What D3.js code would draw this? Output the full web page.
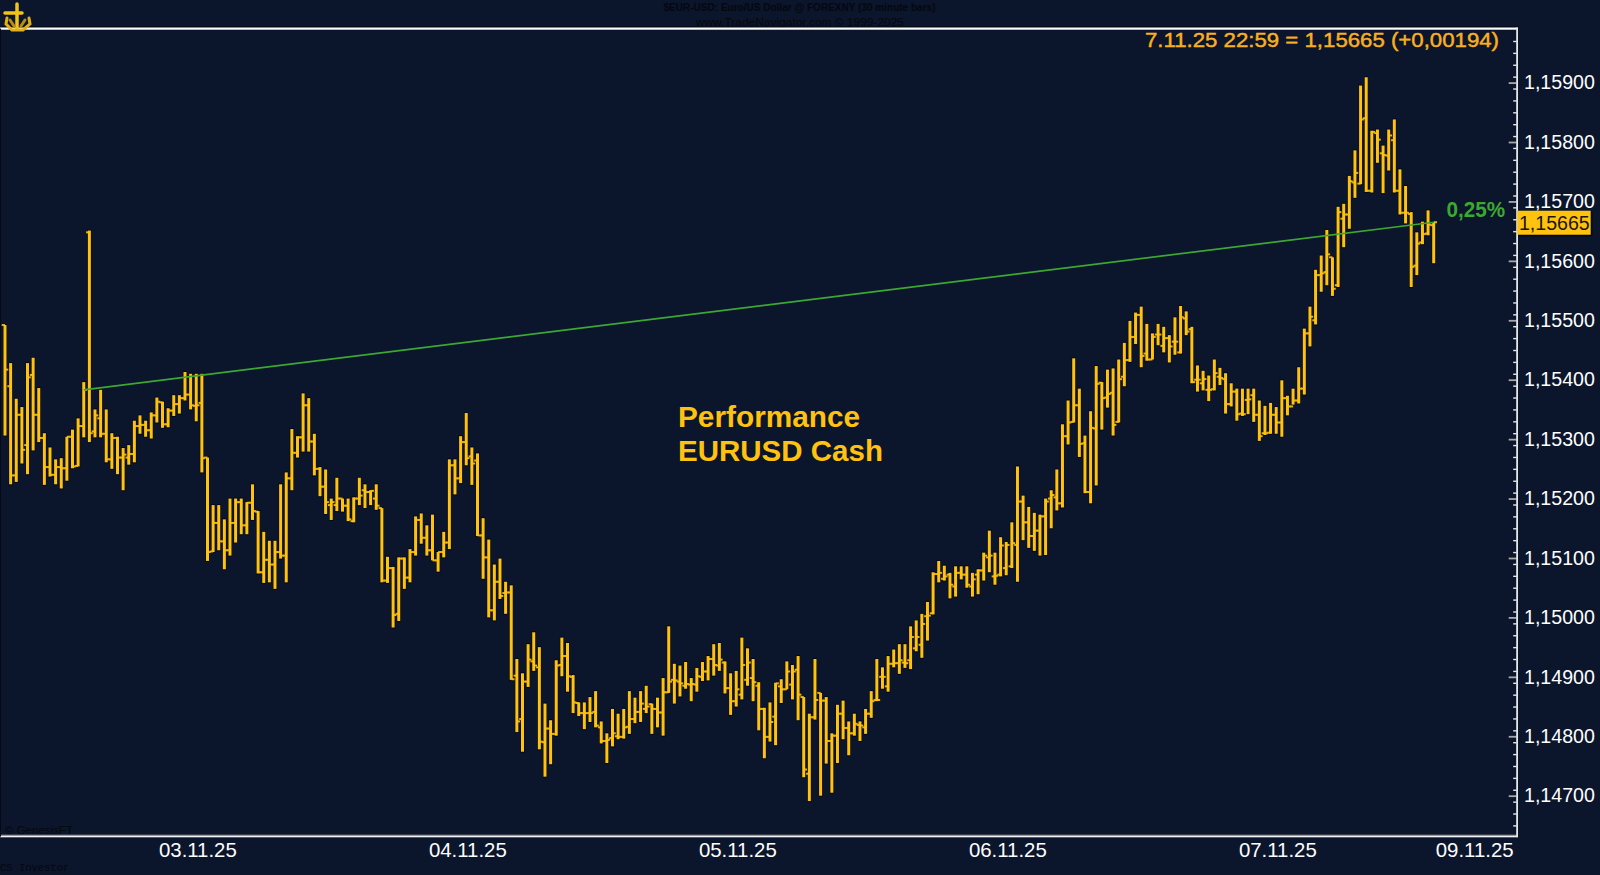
<!DOCTYPE html>
<html><head><meta charset="utf-8">
<script src="https://cdn.jsdelivr.net/npm/d3@7/dist/d3.min.js"></script>
<style>
html,body{margin:0;padding:0;background:#0b152b;overflow:hidden}
svg{display:block;font-family:"Liberation Sans",Arial,sans-serif}
</style></head><body><svg id="c" width="1600" height="875"></svg>
<script>
const highs=[1.15492,1.15428,1.15368,1.15354,1.15428,1.15437,1.15386,1.15310,1.15286,1.15266,
1.15268,1.15304,1.15316,1.15335,1.15396,1.15651,1.15350,1.15383,1.15350,1.15310,
1.15304,1.15285,1.15290,1.15331,1.15340,1.15331,1.15345,1.15370,1.15363,1.15352,
1.15374,1.15374,1.15413,1.15410,1.15410,1.15410,1.15269,1.15189,1.15189,1.15165,
1.15200,1.15200,1.15200,1.15194,1.15224,1.15179,1.15144,1.15129,1.15129,1.15224,
1.15244,1.15317,1.15305,1.15377,1.15369,1.15309,1.15253,1.15249,1.15200,1.15235,
1.15200,1.15200,1.15202,1.15235,1.15224,1.15214,1.15224,1.15184,1.15102,1.15085,
1.15101,1.15101,1.15115,1.15170,1.15175,1.15155,1.15173,1.15110,1.15144,1.15266,
1.15266,1.15305,1.15344,1.15286,1.15276,1.15167,1.15131,1.15089,1.15099,1.15060,
1.15054,1.14930,1.14906,1.14955,1.14975,1.14950,1.14855,1.14827,1.14928,1.14966,
1.14957,1.14903,1.14857,1.14857,1.14866,1.14876,1.14825,1.14805,1.14846,1.14838,
1.14846,1.14876,1.14865,1.14876,1.14885,1.14855,1.14865,1.14898,1.14985,1.14922,
1.14919,1.14925,1.14898,1.14915,1.14925,1.14935,1.14955,1.14957,1.14926,1.14906,
1.14910,1.14966,1.14948,1.14930,1.14891,1.14848,1.14857,1.14890,1.14896,1.14926,
1.14920,1.14935,1.14866,1.14838,1.14930,1.14873,1.14866,1.14805,1.14853,1.14860,
1.14825,1.14838,1.14825,1.14846,1.14876,1.14930,1.14916,1.14935,1.14946,1.14955,
1.14955,1.14985,1.14995,1.15006,1.15026,1.15076,1.15095,1.15087,1.15075,1.15086,
1.15086,1.15086,1.15075,1.15081,1.15109,1.15146,1.15109,1.15135,1.15127,1.15160,
1.15254,1.15205,1.15186,1.15176,1.15173,1.15200,1.15214,1.15249,1.15325,1.15365,
1.15436,1.15385,1.15306,1.15347,1.15423,1.15396,1.15417,1.15419,1.15434,1.15462,
1.15499,1.15513,1.15523,1.15494,1.15478,1.15494,1.15489,1.15475,1.15505,1.15524,
1.15515,1.15489,1.15424,1.15415,1.15407,1.15434,1.15420,1.15411,1.15394,1.15385,
1.15385,1.15385,1.15385,1.15365,1.15356,1.15361,1.15354,1.15399,1.15373,1.15385,
1.15421,1.15486,1.15523,1.15585,1.15609,1.15652,1.15606,1.15691,1.15696,1.15743,
1.15786,1.15895,1.15909,1.15819,1.15821,1.15794,1.15821,1.15838,1.15754,1.15726,
1.15682,1.15648,1.15666,1.15685,1.15665];
const lows=[1.15306,1.15224,1.15228,1.15259,1.15241,1.15281,1.15295,1.15223,1.15237,1.15224,
1.15217,1.15230,1.15251,1.15254,1.15303,1.15295,1.15303,1.15303,1.15261,1.15250,
1.15241,1.15214,1.15257,1.15261,1.15309,1.15304,1.15301,1.15328,1.15319,1.15320,
1.15339,1.15343,1.15365,1.15350,1.15330,1.15244,1.15095,1.15110,1.15113,1.15081,
1.15104,1.15126,1.15140,1.15140,1.15164,1.15074,1.15058,1.15059,1.15048,1.15099,
1.15059,1.15214,1.15269,1.15279,1.15279,1.15239,1.15204,1.15174,1.15164,1.15179,
1.15178,1.15162,1.15160,1.15189,1.15184,1.15189,1.15181,1.15059,1.15058,1.14983,
1.14994,1.15048,1.15059,1.15104,1.15124,1.15104,1.15096,1.15077,1.15101,1.15115,
1.15207,1.15226,1.15256,1.15223,1.15137,1.15065,1.15000,1.14995,1.15031,1.15006,
1.14895,1.14807,1.14774,1.14883,1.14910,1.14778,1.14732,1.14753,1.14801,1.14901,
1.14875,1.14839,1.14834,1.14812,1.14824,1.14815,1.14788,1.14755,1.14783,1.14795,
1.14796,1.14804,1.14822,1.14824,1.14839,1.14804,1.14815,1.14801,1.14873,1.14855,
1.14867,1.14880,1.14859,1.14875,1.14893,1.14894,1.14902,1.14910,1.14872,1.14836,
1.14850,1.14862,1.14885,1.14859,1.14810,1.14763,1.14791,1.14785,1.14856,1.14879,
1.14862,1.14827,1.14731,1.14691,1.14828,1.14700,1.14754,1.14705,1.14755,1.14795,
1.14768,1.14801,1.14792,1.14804,1.14831,1.14859,1.14880,1.14875,1.14916,1.14905,
1.14915,1.14913,1.14943,1.14932,1.14961,1.15005,1.15059,1.15062,1.15032,1.15035,
1.15064,1.15050,1.15035,1.15039,1.15062,1.15076,1.15055,1.15069,1.15071,1.15083,
1.15060,1.15130,1.15117,1.15112,1.15104,1.15105,1.15150,1.15180,1.15185,1.15291,
1.15328,1.15270,1.15209,1.15192,1.15222,1.15316,1.15353,1.15306,1.15328,1.15389,
1.15430,1.15460,1.15421,1.15432,1.15434,1.15458,1.15446,1.15429,1.15442,1.15444,
1.15475,1.15394,1.15380,1.15382,1.15364,1.15382,1.15391,1.15343,1.15355,1.15331,
1.15339,1.15342,1.15329,1.15297,1.15307,1.15309,1.15309,1.15304,1.15340,1.15358,
1.15360,1.15375,1.15456,1.15493,1.15548,1.15559,1.15541,1.15556,1.15623,1.15654,
1.15706,1.15729,1.15716,1.15715,1.15765,1.15714,1.15752,1.15715,1.15678,1.15663,
1.15556,1.15576,1.15628,1.15643,1.15596];
const opens=[1.15492,1.15389,1.15239,1.15341,1.15290,1.15408,1.15341,1.15302,1.15253,1.15240,
1.15253,1.15251,1.15304,1.15255,1.15322,1.15648,1.15313,1.15335,1.15309,1.15266,
1.15302,1.15269,1.15269,1.15275,1.15322,1.15324,1.15315,1.15340,1.15362,1.15325,
1.15348,1.15359,1.15369,1.15375,1.15356,1.15361,1.15269,1.15111,1.15159,1.15128,
1.15113,1.15159,1.15194,1.15155,1.15193,1.15178,1.15076,1.15097,1.15089,1.15110,
1.15104,1.15234,1.15277,1.15303,1.15357,1.15296,1.15250,1.15220,1.15189,1.15189,
1.15200,1.15188,1.15162,1.15200,1.15214,1.15211,1.15200,1.15184,1.15062,1.15083,
1.15006,1.15099,1.15067,1.15110,1.15164,1.15134,1.15113,1.15096,1.15110,1.15126,
1.15256,1.15234,1.15295,1.15271,1.15264,1.15138,1.15101,1.15012,1.15060,1.15041,
1.15042,1.14902,1.14829,1.14892,1.14926,1.14916,1.14790,1.14813,1.14804,1.14920,
1.14935,1.14900,1.14856,1.14839,1.14839,1.14841,1.14815,1.14792,1.14797,1.14800,
1.14799,1.14816,1.14829,1.14841,1.14846,1.14854,1.14846,1.14840,1.14874,1.14895,
1.14892,1.14885,1.14887,1.14887,1.14900,1.14909,1.14930,1.14919,1.14924,1.14881,
1.14859,1.14870,1.14895,1.14898,1.14885,1.14846,1.14799,1.14833,1.14884,1.14879,
1.14887,1.14912,1.14866,1.14737,1.14832,1.14873,1.14860,1.14792,1.14801,1.14838,
1.14814,1.14805,1.14819,1.14815,1.14838,1.14861,1.14900,1.14884,1.14922,1.14923,
1.14924,1.14928,1.14948,1.14954,1.15002,1.15007,1.15073,1.15065,1.15072,1.15052,
1.15075,1.15072,1.15052,1.15072,1.15079,1.15101,1.15069,1.15072,1.15083,1.15086,
1.15122,1.15195,1.15160,1.15137,1.15146,1.15170,1.15200,1.15202,1.15192,1.15305,
1.15329,1.15357,1.15293,1.15211,1.15318,1.15395,1.15370,1.15378,1.15329,1.15405,
1.15433,1.15472,1.15509,1.15444,1.15434,1.15476,1.15457,1.15470,1.15464,1.15446,
1.15503,1.15485,1.15400,1.15394,1.15383,1.15384,1.15405,1.15401,1.15359,1.15380,
1.15343,1.15366,1.15374,1.15341,1.15310,1.15311,1.15341,1.15328,1.15369,1.15355,
1.15365,1.15385,1.15478,1.15500,1.15576,1.15581,1.15606,1.15559,1.15671,1.15678,
1.15732,1.15730,1.15840,1.15718,1.15815,1.15781,1.15777,1.15803,1.15718,1.15681,
1.15679,1.15592,1.15631,1.15646,1.15660];
const closes=[1.15417,1.15239,1.15341,1.15282,1.15404,1.15341,1.15302,1.15253,1.15240,1.15253,
1.15251,1.15304,1.15254,1.15322,1.15383,1.15310,1.15340,1.15309,1.15266,1.15302,
1.15269,1.15274,1.15275,1.15322,1.15324,1.15315,1.15340,1.15363,1.15325,1.15348,
1.15359,1.15369,1.15375,1.15357,1.15357,1.15268,1.15110,1.15159,1.15128,1.15113,
1.15159,1.15194,1.15155,1.15193,1.15179,1.15076,1.15097,1.15089,1.15110,1.15104,
1.15234,1.15277,1.15303,1.15357,1.15296,1.15250,1.15220,1.15194,1.15194,1.15200,
1.15188,1.15165,1.15200,1.15205,1.15211,1.15213,1.15188,1.15062,1.15083,1.15004,
1.15099,1.15067,1.15110,1.15164,1.15134,1.15113,1.15096,1.15110,1.15126,1.15256,
1.15234,1.15295,1.15268,1.15259,1.15138,1.15101,1.15012,1.15060,1.15036,1.15042,
1.14896,1.14825,1.14892,1.14929,1.14919,1.14791,1.14813,1.14804,1.14919,1.14935,
1.14901,1.14857,1.14839,1.14839,1.14839,1.14818,1.14792,1.14794,1.14805,1.14799,
1.14815,1.14829,1.14841,1.14855,1.14850,1.14846,1.14840,1.14874,1.14892,1.14894,
1.14889,1.14888,1.14888,1.14901,1.14909,1.14930,1.14920,1.14929,1.14881,1.14859,
1.14879,1.14920,1.14924,1.14891,1.14846,1.14799,1.14824,1.14889,1.14879,1.14909,
1.14909,1.14870,1.14744,1.14832,1.14861,1.14860,1.14792,1.14801,1.14838,1.14814,
1.14805,1.14821,1.14818,1.14838,1.14859,1.14861,1.14900,1.14922,1.14923,1.14928,
1.14923,1.14967,1.14967,1.14989,1.15003,1.15073,1.15075,1.15069,1.15055,1.15075,
1.15072,1.15055,1.15064,1.15079,1.15104,1.15104,1.15070,1.15121,1.15122,1.15125,
1.15195,1.15160,1.15137,1.15146,1.15170,1.15195,1.15206,1.15192,1.15305,1.15328,
1.15357,1.15292,1.15211,1.15319,1.15393,1.15369,1.15376,1.15324,1.15401,1.15433,
1.15472,1.15509,1.15440,1.15434,1.15472,1.15476,1.15470,1.15456,1.15464,1.15505,
1.15481,1.15396,1.15400,1.15401,1.15383,1.15411,1.15403,1.15359,1.15380,1.15342,
1.15342,1.15367,1.15341,1.15305,1.15310,1.15341,1.15328,1.15369,1.15355,1.15365,
1.15385,1.15478,1.15506,1.15576,1.15579,1.15611,1.15553,1.15682,1.15678,1.15734,
1.15748,1.15838,1.15718,1.15817,1.15804,1.15778,1.15811,1.15718,1.15681,1.15681,
1.15590,1.15629,1.15645,1.15661,1.15665];
const priceTicks=[1.147,1.148,1.149,1.150,1.151,1.152,1.153,1.154,1.155,1.156,1.157,1.158,1.159];
const dateLabels=["03.11.25","04.11.25","05.11.25","06.11.25","07.11.25","09.11.25"];
const dateBars=[34.2,82.2,130.2,178.2,226.2,261.2];
const trendFrom=14, trendTo=254, trendLabel="0,25%";
const lastLabel="7.11.25 22:59 = 1,15665 (+0,00194)", lastPrice="1,15665";
const title1="$EUR-USD: Euro/US Dollar @ FOREXNY  (30 minute bars)", title2="www.TradeNavigator.com © 1999-2025";

const BG="#0b152b",GOLD="#ffc20e",DARK="#05080f",GREEN="#3ca832",ORANGE="#f9b020";
const fmt=v=>v.toFixed(5).replace(".",",");
const svg=d3.select("#c");
const W=1516.7,T=28.5,B=836.7;
const x=d3.scaleLinear().domain([0,254]).range([5,1433.7]);
const y=d3.scaleLinear().domain([1.14631,1.15991]).range([B,T]);
const idx=d3.range(highs.length);

// title + footer in near-black, as in the source terminal
svg.append("text").attr("x",799.5).attr("y",11).attr("text-anchor","middle").attr("fill",DARK)
  .attr("font-size",10.5).attr("font-weight","bold").attr("textLength",272).attr("lengthAdjust","spacingAndGlyphs").text(title1);
svg.append("text").attr("x",800).attr("y",26).attr("text-anchor","middle").attr("fill",DARK)
  .attr("font-size",11.5).attr("textLength",208).attr("lengthAdjust","spacingAndGlyphs").text(title2);
svg.append("text").attr("x",5).attr("y",834).attr("fill",DARK).attr("font-size",11.5).text("© GenesisFT");
svg.append("text").attr("x",0).attr("y",871).attr("fill",DARK).attr("font-family","'Liberation Mono',monospace").attr("font-size",10.5).text("CS Investor");

// frame
svg.append("rect").attr("x",0).attr("y",T-2).attr("width",W+1).attr("height",1).attr("fill","#02050c");
svg.append("rect").attr("x",0).attr("y",T-1).attr("width",W+1).attr("height",2.2).attr("fill","#ffffff");
svg.append("rect").attr("x",0).attr("y",B-2).attr("width",W+1).attr("height",1).attr("fill","#9c9c9c");
svg.append("rect").attr("x",0).attr("y",B-1).attr("width",W+1).attr("height",1.6).attr("fill","#f2f2f2");
svg.append("rect").attr("x",0).attr("y",T).attr("width",1).attr("height",B-T).attr("fill","#050a16");

// bars: shadow first, then gold OHLC
const g=svg.append("g");
g.selectAll("line.s").data(idx).join("line").attr("class","s")
  .attr("x1",i=>x(i)).attr("x2",i=>x(i)).attr("y1",i=>y(highs[i])-1).attr("y2",i=>y(lows[i])+1)
  .attr("stroke","#050a16").attr("stroke-width",4);
g.selectAll("line.o").data(idx).join("line").attr("class","o")
  .attr("x1",i=>x(i)-3.3).attr("x2",i=>x(i)).attr("y1",i=>y(opens[i])).attr("y2",i=>y(opens[i]))
  .attr("stroke","#e8b016").attr("stroke-width",2);
g.selectAll("line.c").data(idx).join("line").attr("class","c")
  .attr("x1",i=>x(i)).attr("x2",i=>x(i)+3.3).attr("y1",i=>y(closes[i])).attr("y2",i=>y(closes[i]))
  .attr("stroke","#e8b016").attr("stroke-width",2);
g.selectAll("line.h").data(idx).join("line").attr("class","h")
  .attr("x1",i=>x(i)).attr("x2",i=>x(i)).attr("y1",i=>y(highs[i])).attr("y2",i=>y(lows[i]))
  .attr("stroke",GOLD).attr("stroke-width",3);

// performance line
svg.append("line").attr("x1",x(trendFrom)).attr("y1",y(closes[trendFrom])).attr("x2",x(trendTo)).attr("y2",y(closes[trendTo]))
  .attr("stroke",GREEN).attr("stroke-width",1.7);

// y axes
const minorTicks=d3.range(0,67).map(k=>+(1.1465+k*0.0002).toFixed(4));
const ay2=svg.append("g").attr("transform",`translate(${W},0)`)
  .call(d3.axisRight(y).tickValues(minorTicks).tickSize(-3.5).tickFormat(""));
ay2.select(".domain").remove();
ay2.selectAll("line").attr("stroke","#e8e8e8").attr("stroke-width",1.4);
const ay=svg.append("g").attr("transform",`translate(${W},0)`)
  .call(d3.axisRight(y).tickValues(priceTicks).tickSize(-8).tickPadding(7.3).tickFormat(fmt));
ay.select(".domain").remove();
ay.selectAll("line").attr("stroke","#a8a8a8").attr("stroke-width",1.8);
ay.selectAll("text").attr("fill","#ffffff").attr("font-family","'Liberation Sans',Arial,sans-serif").attr("font-size",19.6);
svg.append("rect").attr("x",W-.5).attr("y",T-1).attr("width",1.8).attr("height",B-T+1.5).attr("fill","#e6e6e6");

// x axis
const ax=svg.append("g").attr("transform",`translate(0,${B})`)
  .call(d3.axisBottom(x).tickValues(dateBars).tickSize(0).tickPadding(6).tickFormat((d,i)=>dateLabels[i]));
ax.select(".domain").remove();
ax.selectAll("text").attr("fill","#ffffff").attr("font-family","'Liberation Sans',Arial,sans-serif").attr("font-size",20.4);

// labels
svg.append("text").attr("x",1499).attr("y",46.5).attr("text-anchor","end").attr("fill",ORANGE).attr("stroke",ORANGE).attr("stroke-width",0.45)
  .attr("font-size",20).attr("textLength",354).attr("lengthAdjust","spacingAndGlyphs").text(lastLabel);
svg.append("text").attr("x",1446.5).attr("y",217).attr("fill",GREEN).attr("font-size",22).attr("font-weight","bold")
  .attr("textLength",58.5).attr("lengthAdjust","spacingAndGlyphs").text(trendLabel);
svg.append("text").attr("x",678).attr("y",427).attr("fill",GOLD).attr("font-size",29.8).attr("font-weight","bold").text("Performance");
svg.append("text").attr("x",678).attr("y",461).attr("fill",GOLD).attr("font-size",29.5).attr("font-weight","bold").text("EURUSD Cash");

// last price tag
const ty=y(closes[trendTo]);
svg.append("rect").attr("x",W+1.5).attr("y",ty-10.5).attr("width",74).attr("height",24.5).attr("fill","#04070e");
svg.append("rect").attr("x",W+.6).attr("y",ty-11.5).attr("width",73.4).attr("height",24).attr("fill",GOLD);
svg.append("text").attr("x",W+2.2).attr("y",ty+7.5).attr("fill","#1a1408").attr("font-size",19.6).text(lastPrice);

// anchor logo
const lg=svg.append("g").attr("fill","none").attr("stroke","#f2c318").attr("stroke-linecap","round");
lg.append("path").attr("d","M17 4V29").attr("stroke-width",3.5);
lg.append("path").attr("d","M5 13H22").attr("stroke-width",3.5);
lg.append("path").attr("d","M7 18L6 24L12 30H23L30 24L29 18").attr("stroke-width",3).attr("stroke","#e2b012");
lg.append("path").attr("d","M10 20L14 26M25 20L21 26").attr("stroke","#b78c10").attr("stroke-width",3);
</script></body></html>
